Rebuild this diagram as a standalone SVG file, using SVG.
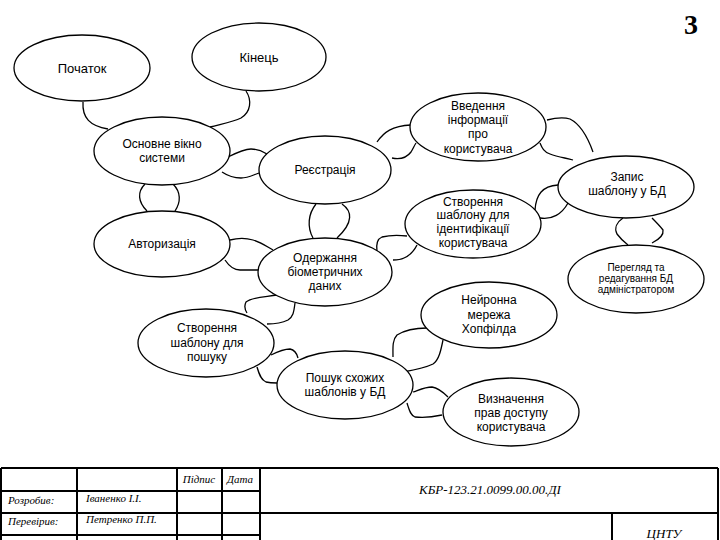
<svg xmlns="http://www.w3.org/2000/svg" width="720" height="540" viewBox="0 0 720 540">
<style>
.n ellipse{fill:#fff;stroke:#000;stroke-width:1.3}
.n text{font-family:"Liberation Sans",Arial,sans-serif;font-size:12px;fill:#000;text-anchor:middle}
.big text{font-size:13px}
.sm text{font-size:10px}
#connectors path{fill:none;stroke:#000;stroke-width:1.3}
.tb line{stroke:#000;stroke-width:2}
.tt{font-family:"Liberation Serif","Times New Roman",serif;font-style:italic;font-size:11px;fill:#000}
.tl{font-size:13px}
</style>
<rect width="720" height="540" fill="#fff"/>
<text x="691" y="34" font-family="Liberation Serif,Times New Roman,serif" font-weight="bold" font-size="28" text-anchor="middle">3</text>
<g id="connectors">
<path d="M83,102 C82,118 90,126 108,129"/>
<path d="M246,91 C252,100 251,112 241,118 C233,122 221,124 210,127"/>
<path d="M228,157 C236,153 244,149 251,149 C258,149 262,151 267,154"/>
<path d="M222,172 C228,176 234,178 241,178 C248,178 253,175 259,173"/>
<path d="M145,184 C137,192 138,202 147,211"/>
<path d="M173,184 C181,192 181,202 175,211"/>
<path d="M316,204 C308,214 307,227 313,238"/>
<path d="M342,204 C352,211 354,222 337,238"/>
<path d="M230,240 C238,238 246,238 253,240 C260,242 266,246 273,250"/>
<path d="M225,260 C229,266 233,270 240,270 C246,270 252,270 258,270"/>
<path d="M277,295 C265,297 252,297 246,302 C244,306 245,310 247,313"/>
<path d="M295,303 C294,310 294,316 288,320 C282,323 274,324 267,324"/>
<path d="M271,355 C277,352 284,349 290,349 C295,350 297,354 298,358"/>
<path d="M257,367 C259,374 261,380 266,382 C270,383 274,383 277,383"/>
<path d="M377,142 C384,132 392,126 411,125"/>
<path d="M392,158 C402,160 408,156 411,152 C413,149 414,146 416,143"/>
<path d="M547,120 C555,118 563,117 570,119 C580,124 588,138 593,152"/>
<path d="M540,143 C542,148 544,152 550,154 C558,157 566,158 573,160"/>
<path d="M535,210 C536,195 542,186 558,185"/>
<path d="M540,218 C552,220 562,214 568,203"/>
<path d="M623,218 C617,222 614,228 617,234 C620,238 624,242 628,245"/>
<path d="M652,218 C656,222 660,226 663,230 C664,236 658,240 652,243"/>
<path d="M377,252 C376,245 377,239 382,237 C390,235 398,235 407,236"/>
<path d="M417,245 C414,251 411,255 404,258 C400,260 396,260 393,260"/>
<path d="M393,357 C393,349 392,340 397,335 C405,330 416,328 427,328"/>
<path d="M403,372 C414,370 425,368 433,364 C439,360 441,350 443,340"/>
<path d="M413,392 C419,390 425,387 432,387 C439,388 444,393 448,397"/>
<path d="M407,403 C409,409 410,415 415,417 C423,418 433,417 442,415"/>
</g>
<g id="n-pochatok" class="n big"><ellipse cx="82" cy="68" rx="68" ry="33"/><text x="82" y="73">Початок</text></g>
<g id="n-kinets" class="n big"><ellipse cx="259" cy="57" rx="67" ry="34"/><text x="259" y="62">Кінець</text></g>
<g id="n-osnovne" class="n"><ellipse cx="162" cy="151" rx="68" ry="34"/><text x="162" y="148">Основне вікно</text><text x="162" y="162">системи</text></g>
<g id="n-reiestratsiia" class="n"><ellipse cx="325" cy="170" rx="66" ry="34"/><text x="325" y="174">Реєстрація</text></g>
<g id="n-avtoryzatsiia" class="n"><ellipse cx="162" cy="244" rx="68" ry="33"/><text x="162" y="248">Авторизація</text></g>
<g id="n-oderzhannia" class="n"><ellipse cx="325" cy="272" rx="67" ry="34"/><text x="325" y="262">Одержання</text><text x="325" y="276">біометричних</text><text x="325" y="290">даних</text></g>
<g id="n-shablon-poshuk" class="n"><ellipse cx="206" cy="343" rx="68" ry="34"/><text x="207" y="332">Створення</text><text x="207" y="347">шаблону для</text><text x="207" y="361">пошуку</text></g>
<g id="n-poshuk" class="n"><ellipse cx="345" cy="385" rx="68" ry="34"/><text x="345" y="382">Пошук схожих</text><text x="345" y="396">шаблонів у БД</text></g>
<g id="n-vvedennia" class="n"><ellipse cx="478" cy="127" rx="68" ry="34"/><text x="478" y="110">Введення</text><text x="478" y="124">інформації</text><text x="478" y="138">про</text><text x="478" y="153">користувача</text></g>
<g id="n-zapys" class="n"><ellipse cx="626" cy="187" rx="68" ry="31"/><text x="627" y="181">Запис</text><text x="627" y="195">шаблону у БД</text></g>
<g id="n-pereghliad" class="n sm"><ellipse cx="636" cy="279" rx="68" ry="34"/><text x="636" y="271">Перегляд та</text><text x="636" y="282">редагування БД</text><text x="636" y="293">адміністратором</text></g>
<g id="n-shablon-ident" class="n"><ellipse cx="473" cy="224" rx="68" ry="34"/><text x="473" y="206">Створення</text><text x="473" y="219">шаблону для</text><text x="473" y="233">ідентифікації</text><text x="473" y="247">користувача</text></g>
<g id="n-neiromerezha" class="n"><ellipse cx="489" cy="315" rx="68" ry="33"/><text x="489" y="304">Нейронна</text><text x="489" y="319">мережа</text><text x="489" y="333">Хопфілда</text></g>
<g id="n-vyznachennia" class="n"><ellipse cx="511" cy="412" rx="68" ry="34"/><text x="511" y="403">Визначення</text><text x="511" y="417">прав доступу</text><text x="511" y="431">користувача</text></g>
<g id="stamp" class="tb">
<line x1="1" y1="468" x2="718" y2="468"/>
<line x1="1" y1="468" x2="1" y2="540"/>
<line x1="718" y1="468" x2="718" y2="540"/>
<line x1="77" y1="468" x2="77" y2="540"/>
<line x1="177" y1="468" x2="177" y2="540"/>
<line x1="222" y1="468" x2="222" y2="540"/>
<line x1="260" y1="468" x2="260" y2="540"/>
<line x1="1" y1="491" x2="260" y2="491"/>
<line x1="1" y1="513" x2="718" y2="513"/>
<line x1="1" y1="535" x2="260" y2="535"/>
<line x1="612" y1="513" x2="612" y2="540"/>
<text class="tt" x="199" y="483" text-anchor="middle">Підпис</text>
<text class="tt" x="240" y="483" text-anchor="middle">Дата</text>
<text class="tt" x="8" y="504">Розробив:</text>
<text class="tt" x="86" y="502">Іваненко І.І.</text>
<text class="tt" x="8" y="525">Перевірив:</text>
<text class="tt" x="86" y="523">Петренко П.П.</text>
<text class="tt tl" x="490" y="494" text-anchor="middle">КБР-123.21.0099.00.00.ДІ</text>
<text class="tt tl" x="664" y="538" text-anchor="middle">ЦНТУ</text>
</g>
</svg>
